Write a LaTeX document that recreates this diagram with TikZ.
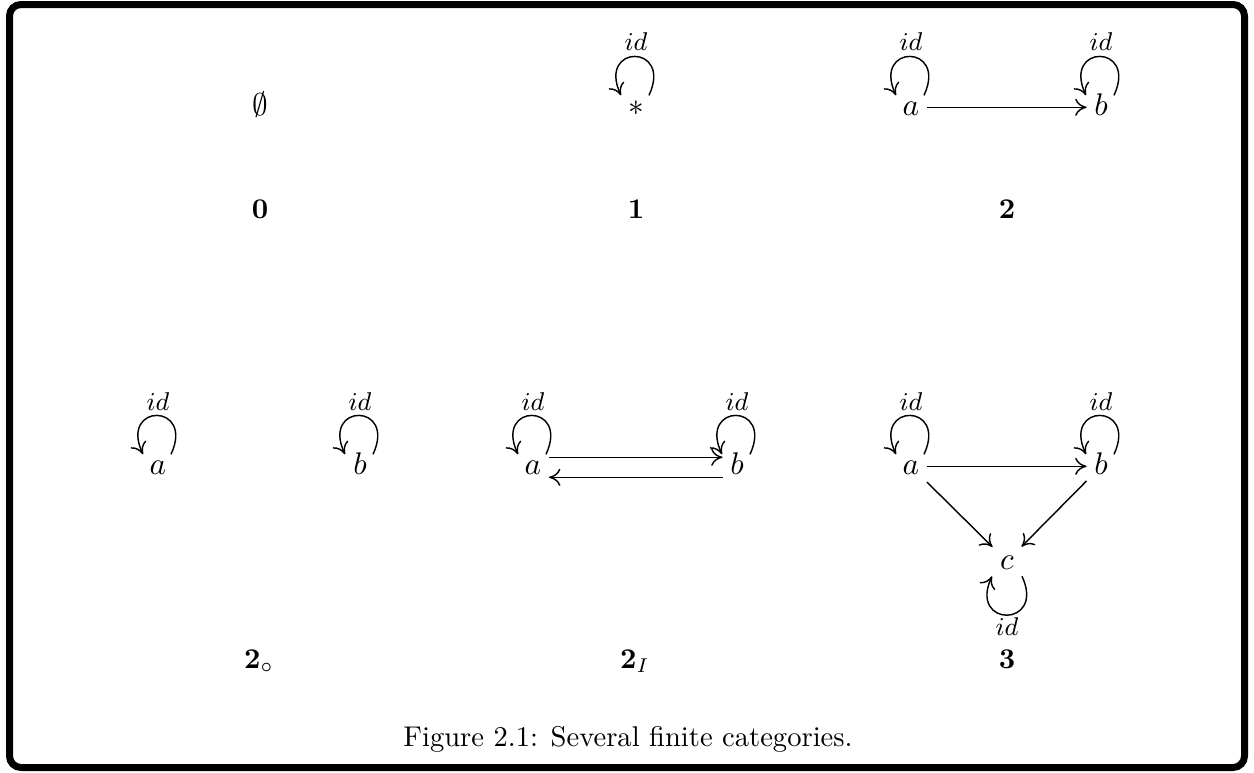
\documentclass[tikz,border=0pt]{standalone}
\usetikzlibrary{arrows.meta}

% identity loop drawn above / below a named object node
\newcommand\catloopup[1]{%
  \draw[arr] ([shift={(13,12)}]#1.center) .. controls +(65:57) and +(115:57) .. ([shift={(-15,12)}]#1.center);}
\newcommand\catloopdown[1]{%
  \draw[arr] ([shift={(15,-15)}]#1.center) .. controls +(-65:57) and +(-115:57) .. ([shift={(-15,-15)}]#1.center);}

\begin{document}
\begin{tikzpicture}[x=0.35pt,y=0.35pt,
  obj/.style={font=\fontsize{11}{13}\selectfont, inner sep=2.5pt,
              text height=1.5ex, text depth=0.25ex, anchor=base},
  idl/.style={font=\fontsize{9}{11}\selectfont, inner sep=0pt, anchor=base},
  cat/.style={font=\fontsize{10}{12}\selectfont, inner sep=0pt, anchor=base},
  arr/.style={line width=0.5pt,
              -{Computer Modern Rightarrow[length=4pt,width=6pt]}},
  frame/.style={line width=2.45pt, rounded corners=4pt}]

\useasboundingbox (0,0) rectangle (1254,772);
\draw[frame] (9.5,4.5) rectangle (1244.5,767.5);

% ---- 0 ----
\node[obj] (empty) at (260,657) {$\emptyset$};
\node[cat] (zero) at (260,554) {$\mathbf{0}$};

% ---- 1 ----
\node[obj] (star) at (636,657) {$*$};
\node[idl] (idstar) at (636,722) {$id$};
\node[cat] (one) at (636,554) {$\mathbf{1}$};
\catloopup{star}

% ---- 2 ----
\node[obj] (a2) at (911,657) {$a$};
\node[obj] (b2) at (1101,657) {$b$};
\node[idl] (ida2) at (911,722) {$id$};
\node[idl] (idb2) at (1101,722) {$id$};
\node[cat] (two) at (1007,554) {$\mathbf{2}$};
\catloopup{a2}
\catloopup{b2}
\draw[arr] (a2) -- (b2);

% ---- 2 discrete ----
\node[obj] (ad) at (158,298) {$a$};
\node[obj] (bd) at (360,298) {$b$};
\node[idl] (idad) at (158,362) {$id$};
\node[idl] (idbd) at (360,362) {$id$};
\node[cat] (twod) at (259,104) {$\mathbf{2}_\circ$};
\catloopup{ad}
\catloopup{bd}

% ---- 2 with isomorphism ----
\node[obj] (aI) at (533,298) {$a$};
\node[obj] (bI) at (737,298) {$b$};
\node[idl] (idaI) at (533,362) {$id$};
\node[idl] (idbI) at (737,362) {$id$};
\node[cat] (twoI) at (635,104) {$\mathbf{2}_I$};
\catloopup{aI}
\catloopup{bI}
\draw[arr] ([shift={(0,9)}]aI.east) -- ([shift={(0,9)}]bI.west);
\draw[arr] ([shift={(0,-11)}]bI.west) -- ([shift={(0,-11)}]aI.east);

% ---- 3 ----
\node[obj] (a3) at (911,298) {$a$};
\node[obj] (b3) at (1101,298) {$b$};
\node[obj] (c3) at (1007,203) {$c$};
\node[idl] (ida3) at (911,362) {$id$};
\node[idl] (idb3) at (1101,362) {$id$};
\node[idl] (idc3) at (1007,137) {$id$};
\node[cat] (three) at (1007,104) {$\mathbf{3}$};
\catloopup{a3}
\catloopup{b3}
\catloopdown{c3}
\draw[arr] (a3) -- (b3);
\draw[arr] (a3) -- (c3);
\draw[arr] (b3) -- (c3);

% ---- caption ----
\node[cat, font=\fontsize{10}{12}\selectfont] (caption) at (628,26) {Figure 2.1: Several finite categories.};
\end{tikzpicture}
\end{document}
